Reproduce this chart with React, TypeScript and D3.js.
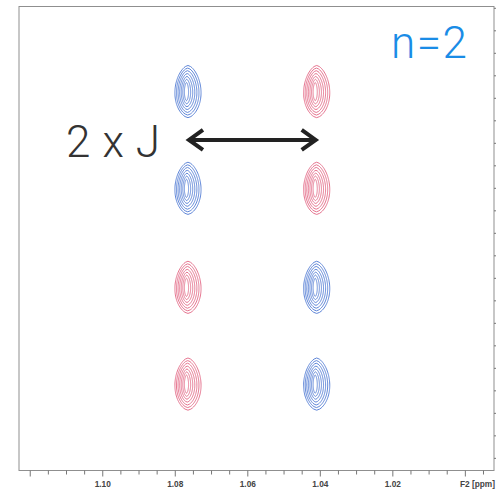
import React from "react";
import * as d3 from "d3";

// F2 (direct dimension) chemical shifts of the two peak columns, ppm
const peakF2 = [1.0765, 1.0765, 1.0765, 1.0765, 1.041, 1.041, 1.041, 1.041];
// F1 offsets of the four multiplet rows, Hz
const peakF1 = [6.3, 2.0, -2.4, -6.7, 6.3, 2.0, -2.4, -6.7];
// Phase of each cross peak: +1 positive (blue), -1 negative (red)
const peakSign = [1, 1, -1, -1, -1, -1, 1, 1];

// Axis ticks (ppm) along F2
const f2MajorTicks = [1.12, 1.1, 1.08, 1.06, 1.04, 1.02, 1.0];
const f2TickLabels = ["1.10", "1.08", "1.06", "1.04", "1.02"];
const f2TickLabelValues = [1.1, 1.08, 1.06, 1.04, 1.02];

// Contour levels as fractions of the peak half-widths (F2, F1)
const levelFracX = [1, 0.86, 0.72, 0.58, 0.44, 0.3, 0.16];
const levelFracY = [1, 0.9, 0.8, 0.69, 0.58, 0.47, 0.35];

const W = 496;
const H = 489;
const left = 19;
const right = 494;
const top = 6.5;
const bottom = 470.5;

const POS = "#5f86d8";
const NEG = "#e6748f";

export default function App() {
  const x = d3.scaleLinear().domain([1.1231, 0.9921]).range([left, right]);
  const y = d3.scaleLinear().domain([10.08, -10.54]).range([top, bottom]);

  const halfWidthPpm = 0.0036;
  const halfWidthHz = 1.16;

  const minorTicks = d3.range(0, 27).map((i) => 1.12 - i * 0.005).filter((v) => x(v) <= right);
  const f1Ticks = d3.range(10, -11, -1);

  // lens-shaped contour, pointed at both ends along F1
  const contourPath = (cx: number, cy: number, rx: number, ry: number) => {
    const n = 48;
    const pts: [number, number][] = [];
    const half = (t: number) => rx * Math.pow(1 - t * t, 0.62) * (1 + 0.06 * t);
    for (let i = 0; i <= n; i++) {
      const t = -1 + (2 * i) / n;
      pts.push([cx + half(t), cy + ry * t]);
    }
    for (let i = n - 1; i > 0; i--) {
      const t = -1 + (2 * i) / n;
      pts.push([cx - half(t), cy + ry * t]);
    }
    return d3.line().curve(d3.curveLinearClosed)(pts) as string;
  };

  const rxPx = Math.abs(x(1.0765 - halfWidthPpm) - x(1.0765));
  const ryPx = Math.abs(y(-halfWidthHz) - y(0));

  const arrowY = y((peakF1[0] + peakF1[1]) / 2);
  const ax1 = x(peakF2[0]);
  const ax2 = x(peakF2[4]);

  return (
    <svg
      width={W}
      height={H}
      style={{ position: "absolute", left: 0, top: 0, background: "#fff" }}
    >
      <rect x={0} y={0} width={W} height={H} fill="#fff" />
      {/* frame */}
      <rect x={left} y={top} width={right - left} height={bottom - top} fill="none" stroke="#8f8f8f" strokeWidth={1} />

      {/* F2 ticks */}
      {minorTicks.map((v, i) => {
        const major = f2MajorTicks.some((m) => Math.abs(m - v) < 1e-6);
        return (
          <line key={"t" + i} x1={x(v)} x2={x(v)} y1={bottom} y2={bottom + (major ? 6 : 4)} stroke="#777" strokeWidth={1} />
        );
      })}
      {f2TickLabels.map((s, i) => (
        <text
          key={"l" + i}
          x={x(f2TickLabelValues[i])}
          y={486.5}
          textAnchor="middle"
          fontFamily="Liberation Sans, Arial, sans-serif"
          fontWeight="bold"
          fontSize={8.3}
          fill="#444"
        >
          {s}
        </text>
      ))}
      <text x={495} y={486.5} textAnchor="end" fontFamily="Liberation Sans, Arial, sans-serif" fontWeight="bold" fontSize={8.3} fill="#444">
        F2 [ppm]
      </text>

      {/* F1 ticks on right edge */}
      {f1Ticks.map((v) => (
        <line key={"r" + v} x1={right} x2={right + 3} y1={y(v)} y2={y(v)} stroke="#777" strokeWidth={1} />
      ))}

      {/* cross peaks */}
      {peakF2.map((f2, i) => {
        const cx = x(f2);
        const cy = y(peakF1[i]);
        const col = peakSign[i] > 0 ? POS : NEG;
        return (
          <g key={"p" + i}>
            {levelFracX.map((fx, k) => (
              <path
                key={k}
                d={contourPath(cx - k * 0.25, cy, rxPx * fx, ryPx * levelFracY[k])}
                fill="none"
                stroke={col}
                strokeWidth={1}
              />
            ))}
          </g>
        );
      })}

      {/* coupling arrow */}
      <g stroke="#222" strokeWidth={4} fill="none" strokeLinejoin="miter">
        <line x1={ax1 + 1} x2={ax2 - 1} y1={arrowY} y2={arrowY} />
        <polyline points={`${ax1 + 15},${arrowY - 10} ${ax1 + 1},${arrowY} ${ax1 + 15},${arrowY + 10}`} />
        <polyline points={`${ax2 - 15},${arrowY - 10} ${ax2 - 1},${arrowY} ${ax2 - 15},${arrowY + 10}`} />
      </g>

      <text
        x={66}
        y={157}
        fontFamily="Roboto, sans-serif"
        fontWeight={300}
        fontSize={44}
        fill="#333"
        textLength={94}
        lengthAdjust="spacing"
      >
        2 x J
      </text>
      <text
        x={391}
        y={58}
        fontFamily="Roboto, sans-serif"
        fontWeight={300}
        fontSize={44}
        fill="#1a8ce6"
        textLength={76}
        lengthAdjust="spacing"
      >
        n=2
      </text>
    </svg>
  );
}
